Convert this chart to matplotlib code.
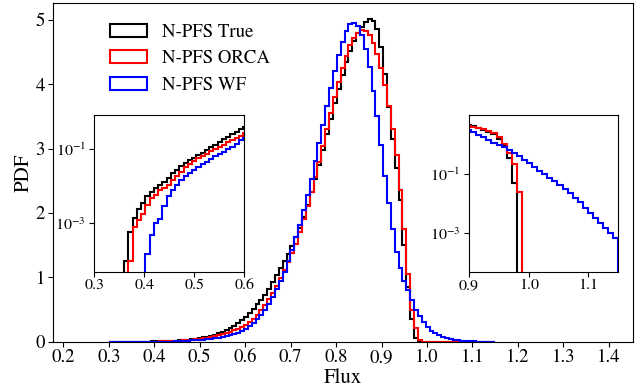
import matplotlib.pyplot as plt
import numpy as np
from matplotlib.ticker import NullLocator

plt.rcParams.update(
    {
        "font.family": "STIXGeneral",
        "mathtext.fontset": "stix",
        "font.size": 13.5,
        "axes.labelsize": 15,
        "xtick.major.pad": 1.5,
        "ytick.major.pad": 2.5,
    }
)

# histogram binning of the flux PDFs
FLUX_MIN, FLUX_MAX, N_BINS = 0.3, 1.15, 100

# PDF per bin (100 bins between 0.3 and 1.15)
pdf_true = (
    [0.0] * 7
    + [1.0e-4, 6e-4, 1.4e-3, 2.5e-3, 3.5e-3, 5.5e-3, 7e-3, 9e-3, 1.05e-2, 1.3e-2,
       1.7e-2, 2.2e-2, 2.8e-2, 3.4e-2, 4.1e-2, 4.9e-2, 5.8e-2, 6.8e-2, 8.0e-2, 9.4e-2,
       0.11, 0.13, 0.155, 0.18, 0.21, 0.25, 0.29, 0.34, 0.39]
    + [0.45, 0.51, 0.58, 0.65, 0.73, 0.82, 0.92, 1.03, 1.14, 1.25,
       1.36, 1.48, 1.62, 1.77, 1.94, 2.12, 2.32, 2.53, 2.75, 2.98,
       3.22, 3.46, 3.70, 3.93, 4.14, 4.34, 4.52, 4.67, 4.79, 4.89,
       4.96, 5.01, 4.98, 4.85, 4.58, 4.15, 3.65, 3.15, 2.70, 2.20,
       1.50, 0.85, 0.35, 0.05]
    + [0.0] * 20
)

pdf_orca = (
    [0.0] * 8
    + [1e-4, 8e-4, 1.2e-3, 1.8e-3, 3.1e-3, 4.8e-3, 5.8e-3, 7.9e-3, 9e-3, 1.1e-2,
       1.45e-2, 1.9e-2, 2.4e-2, 3.3e-2, 4.0e-2, 4.8e-2, 5.6e-2, 6.5e-2, 7.5e-2, 8.7e-2,
       0.10, 0.115, 0.13, 0.15, 0.175, 0.20, 0.23, 0.265]
    + [0.31, 0.36, 0.42, 0.49, 0.57, 0.66, 0.76, 0.87, 0.99, 1.11, 1.24]
    + [1.37, 1.52, 1.70, 1.90, 2.10, 2.32, 2.55, 2.79, 3.04, 3.30,
       3.55, 3.80, 4.03, 4.25, 4.44, 4.60, 4.72, 4.80, 4.84, 4.83,
       4.76, 4.64, 4.47, 4.25, 3.98, 3.66, 3.30, 2.90, 2.35, 1.75,
       1.05, 0.50, 0.22, 0.025]
    + [0.0] * 19
)

pdf_wf = (
    [0.0] * 12
    + [1.5e-4, 5e-4, 1.0e-3, 1.3e-3, 3.0e-3, 5.5e-3, 8e-3, 1.1e-2, 1.5e-2, 1.9e-2,
       2.3e-2, 2.8e-2, 3.3e-2, 3.9e-2, 4.6e-2, 5.5e-2, 6.4e-2, 7.4e-2, 8.5e-2, 9.7e-2,
       0.115, 0.14, 0.17, 0.20]
    + [0.24, 0.29, 0.35, 0.42, 0.50, 0.59, 0.70, 0.82, 0.95, 1.09, 1.25]
    + [1.43, 1.62, 1.82, 2.04, 2.28, 2.53, 2.80, 3.08, 3.37, 3.66,
       3.94, 4.21, 4.45, 4.66, 4.82]
    + [4.93, 4.95, 4.90, 4.76, 4.55, 4.26, 3.90, 3.50, 3.05, 2.58]
    + [2.15, 1.75, 1.40, 1.15, 0.95, 0.80, 0.64, 0.50, 0.40, 0.30]
    + [0.23, 0.17, 0.13, 0.10, 0.075, 0.058, 0.044, 0.032, 0.023, 0.016,
       0.011, 0.0072, 0.0048, 0.0032, 0.0022, 0.0015, 0.0010, 0.0007]
)

labels = ["N-PFS True", "N-PFS ORCA", "N-PFS WF"]
colors = ["k", "r", "b"]

main_xticks = [0.2, 0.3, 0.4, 0.5, 0.6, 0.7, 0.8, 0.9, 1.0, 1.1, 1.2, 1.3, 1.4]
main_yticks = [0, 1, 2, 3, 4, 5]
left_xticks = [0.3, 0.4, 0.5, 0.6]
right_xticks = [0.9, 1.0, 1.1]
inset_yticks = [1e-3, 1e-1]

edges = np.linspace(FLUX_MIN, FLUX_MAX, N_BINS + 1)
centers = 0.5 * (edges[:-1] + edges[1:])


def draw_hists(ax, with_labels=False):
    for vals, lab, col in zip([pdf_true, pdf_orca, pdf_wf], labels, colors):
        ax.hist(
            centers,
            bins=edges,
            weights=np.array(vals),
            histtype="step",
            color=col,
            linewidth=1.5,
            label=lab if with_labels else None,
        )


fig = plt.figure(figsize=(6.39, 3.88), dpi=100)

ax = fig.add_axes([0.0834, 0.1193, 0.9072, 0.8722])
draw_hists(ax, with_labels=True)
ax.set_xlim(0.178, 1.453)
ax.set_ylim(0, 5.255)
ax.set_xticks(main_xticks)
ax.set_yticks(main_yticks)
ax.set_xlabel("Flux", labelpad=2)
ax.set_ylabel("PDF", labelpad=1.5)
ax.legend(
    loc="upper left",
    bbox_to_anchor=(0.0847, 0.962),
    borderaxespad=0,
    frameon=False,
)

# left inset: low-flux tail
axl = fig.add_axes([0.1476, 0.2997, 0.2347, 0.4039])
axl.set_yscale("log")
draw_hists(axl)
axl.set_xlim(0.3, 0.6)
axl.set_ylim(5e-5, 0.82)

# right inset: high-flux tail
axr = fig.add_axes([0.734, 0.2997, 0.2337, 0.4039])
axr.set_yscale("log")
draw_hists(axr)
axr.set_xlim(0.9, 1.15)
axr.set_ylim(5e-5, 9.8)

for a, xt in [(axl, left_xticks), (axr, right_xticks)]:
    a.set_xticks(xt)
    a.set_yticks(inset_yticks)
    a.yaxis.set_minor_locator(NullLocator())
    a.tick_params(labelsize=11.5)

fig.savefig("out.png", dpi=100)
